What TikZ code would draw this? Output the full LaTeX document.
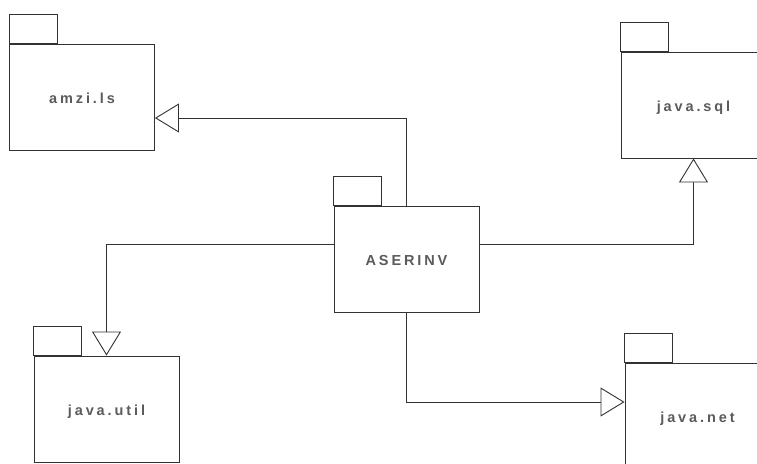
\documentclass[tikz,border=0pt]{standalone}
\usepackage{fontspec}
\setmainfont{Liberation Sans}[LetterSpace=20]
\usetikzlibrary{arrows.meta}
\definecolor{ink}{RGB}{50,50,50}
\tikzset{
  pkg/.style={draw=ink, line width=0.9pt, rectangle, minimum width=145pt, minimum height=106pt, inner sep=0pt, text height=12pt, text depth=0pt, font=\fontsize{14.5}{17}\selectfont\bfseries, text=ink!80},
  gen/.style={draw=ink, line width=0.9pt, -{Triangle[open, length=24pt, width=29pt, line width=0.9pt, fill=white]}},
}
\newcommand{\pkgtab}[1]{\draw[draw=ink, line width=0.9pt] (#1.north west) rectangle ++(48,-29);}
\begin{document}
\begin{tikzpicture}[x=1pt,y=-1pt]
\useasboundingbox (0,0) rectangle (757,463);
\clip (0,0) rectangle (757,463);
\fill[white] (0,0) rectangle (757,463);
\node[pkg] (amzi) at (82,97) {amzi.ls};
\node[pkg] (aser) at (406.5,259) {ASERINV};
\node[pkg] (jsql) at (693.5,105) {java.sql};
\node[pkg] (jutil) at (106.5,409) {java.util};
\node[pkg] (jnet) at (697.5,416) {java.net};
\pkgtab{amzi}
\pkgtab{aser}
\pkgtab{jsql}
\pkgtab{jutil}
\pkgtab{jnet}
\draw[gen] (aser.north) |- ([yshift=-21pt]amzi.east);
\draw[gen] ([yshift=15pt]aser.west) -| (jutil.north);
\draw[gen] ([yshift=15pt]aser.east) -| (jsql.south);
\draw[gen] (aser.south) |- ([yshift=14pt]jnet.west);
\end{tikzpicture}
\end{document}
